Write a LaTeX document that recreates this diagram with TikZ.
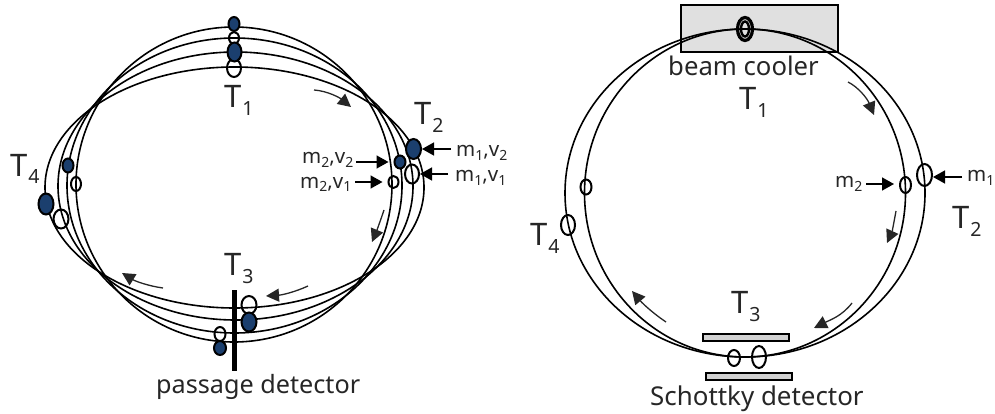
\documentclass[tikz,border=0pt]{standalone}
\usepackage{fontspec}
\setmainfont{Noto Sans}
\usetikzlibrary{arrows.meta,shapes.geometric}
\definecolor{navy}{HTML}{1B3F6E}
\definecolor{ink}{HTML}{262626}
\definecolor{coolgray}{HTML}{E0E0E0}
\definecolor{platey}{HTML}{D2D2D2}
\newcommand{\TT}[1]{T\kern1pt\raisebox{-8pt}{\fontsize{19.5}{19.5}\selectfont #1}}
\newcommand{\SB}[1]{\raisebox{-3.5pt}{\fontsize{14}{14}\selectfont #1}}
\tikzset{
 ring/.style={draw=black,line width=1.6pt},
 obead/.style={ellipse,draw=black,line width=2pt,fill=none,inner sep=0pt},
 fbead/.style={ellipse,draw=black,line width=2pt,fill=navy,inner sep=0pt},
 timelab/.style={anchor=base west,inner sep=0pt,text=ink,font=\fontsize{31}{31}\selectfont},
 lab/.style={anchor=base west,inner sep=0pt,text=ink,font=\fontsize{20.5}{22}\selectfont},
 captext/.style={anchor=base west,inner sep=0pt,text=ink},
 ptr/.style={draw=black,line width=1.5pt,-{Triangle[length=12pt,width=13pt]}},
 flow/.style={draw=ink,line width=1.3pt,-{Triangle[length=13pt,width=13pt]}},
 plate/.style={draw=black,line width=1.4pt,fill=platey,inner sep=0pt},
}
\newcommand{\B}[6]{\node[#1,minimum width=#5pt,minimum height=#6pt] (#2) at (#3,#4) {};}
\begin{document}
\begin{tikzpicture}[x=1pt,y=-1pt]
\useasboundingbox (0,0) rectangle (995,414);
% left rings
\draw[ring] (234,184.5) ellipse [x radius=158pt,y radius=157.5pt];
\draw[ring] (234.5,185.5) ellipse [x radius=167.5pt,y radius=147.5pt];
\draw[ring] (235.5,186) ellipse [x radius=177.5pt,y radius=134pt];
\draw[ring] (234.5,187.5) ellipse [x radius=189.5pt,y radius=120.5pt];
% left beads
\B{obead}{la}{234}{68}{14}{18}
\B{fbead}{lb}{234}{24}{11}{14}
\B{obead}{lc}{234}{38}{10}{12}
\B{fbead}{ld}{234.5}{52}{14}{19}
\B{fbead}{le}{413.5}{149}{15}{20}
\B{fbead}{lf}{400}{162}{11}{13}
\B{obead}{lg}{412}{174}{14}{19}
\B{obead}{lh}{393.5}{182}{10}{12}
\B{fbead}{li}{68}{165.5}{11}{14}
\B{obead}{lj}{76}{184}{10}{14}
\B{fbead}{lk}{46}{204}{15}{21}
\B{obead}{ll}{61}{219}{15}{19}
\B{obead}{lm}{249}{305}{15}{18}
\B{fbead}{ln}{249}{322}{15}{19}
\B{obead}{lo}{220}{334}{11}{14}
\B{fbead}{lp}{220}{348}{12}{14}
\draw[line width=4.5pt] (234.5,290) -- (234.5,371);
% left labels
\node[timelab] (t1l) at (224,108) {\TT{1}};
\node[timelab] (t2l) at (414,125) {\TT{2}};
\node[timelab] (t3l) at (224,275) {\TT{3}};
\node[timelab] (t4l) at (10,176) {\TT{4}};
\node[captext,font=\fontsize{25.2}{27}\selectfont] (pd) at (156,393) {passage detector};
\node[lab] (m22) at (302,164) {m\SB{2},v\SB{2}};
\node[lab] (m21) at (300,188.5) {m\SB{2},v\SB{1}};
\node[lab] (m12) at (456,157) {m\SB{1},v\SB{2}};
\node[lab] (m11) at (455,182) {m\SB{1},v\SB{1}};
\coordinate (s22) at (356,162);
\coordinate (s21) at (355,182);
\coordinate (s12) at (451,149);
\coordinate (s11) at (448,174);
\draw[ptr,shorten >=5pt] (s22) -- (lf.west |- s22);
\draw[ptr,shorten >=5pt] (s21) -- (lh.west |- s21);
\draw[ptr] (s12) -- (le.east |- s12);
\draw[ptr] (s11) -- (lg.east |- s11);
% left flow arrows
\coordinate (a1s) at (314,90); \coordinate (a1e) at (351,107);
\coordinate (a2s) at (384,210); \coordinate (a2e) at (372,242);
\coordinate (a3s) at (308,286); \coordinate (a3e) at (266,296);
\coordinate (a4s) at (163,288); \coordinate (a4e) at (122,273);
\draw[flow] (a1s) .. controls (328,91) and (340,98) .. (a1e);
\draw[flow] (a2s) .. controls (381,219) and (377,230) .. (a2e);
\draw[flow] (a3s) .. controls (295,292) and (282,295) .. (a3e);
\draw[flow] (a4s) .. controls (148,286) and (135,281) .. (a4e);
% right rings
\node[draw=black,line width=1.6pt,fill=coolgray,minimum width=157pt,minimum height=47pt,inner sep=0pt] (cooler) at (759.5,28.5) {};
\draw[ring] (745,193) ellipse [x radius=160.5pt,y radius=164pt];
\draw[ring] (745,193) ellipse [x radius=180pt,y radius=164pt];
% right beads
\node[obead,line width=3.2pt,minimum width=15pt,minimum height=23pt] (r1) at (745,29) {};
\node[obead,line width=2.4pt,minimum width=8pt,minimum height=15pt] (r1b) at (745,29) {};
\B{obead}{r2}{924.5}{175}{15}{22}
\B{obead}{r3}{905.5}{185}{11}{16}
\B{obead}{r4}{586}{187}{11}{15}
\B{obead}{r5}{568}{225}{14}{20}
\B{obead}{r6}{734}{358}{12}{16}
\B{obead}{r7}{759}{357}{14}{22}
\node[plate,minimum width=86pt,minimum height=7pt] (up) at (746,337.5) {};
\node[plate,minimum width=86pt,minimum height=7pt] (lo) at (749,376.5) {};
% right labels
\node[timelab] (t1r) at (739,110) {\TT{1}};
\node[timelab] (t2r) at (952,228) {\TT{2}};
\node[timelab] (t3r) at (731,313) {\TT{3}};
\node[timelab] (t4r) at (530,245) {\TT{4}};
\node[captext,font=\fontsize{25.7}{27}\selectfont] (bc) at (668,76) {beam cooler};
\node[captext,font=\fontsize{25.9}{27}\selectfont] (sd) at (650,405) {Schottky detector};
\node[lab] (m2r) at (835,188) {m\SB{2}};
\node[lab] (m1r) at (967,182) {m\SB{1}};
\coordinate (s2r) at (866,184);
\coordinate (s1r) at (962,177);
\draw[ptr,shorten >=5pt] (s2r) -- (r3.west |- s2r);
\draw[ptr] (s1r) -- (r2.east |- s1r);
\coordinate (b1s) at (848,82); \coordinate (b1e) at (874,115);
\coordinate (b2s) at (896,211); \coordinate (b2e) at (887,243);
\coordinate (b3s) at (852,303); \coordinate (b3e) at (814,328);
\coordinate (b4s) at (666,322); \coordinate (b4e) at (632,291);
\draw[flow] (b1s) .. controls (858,87) and (867,98) .. (b1e);
\draw[flow] (b2s) .. controls (894,222) and (892,232) .. (b2e);
\draw[flow] (b3s) .. controls (842,316) and (830,320) .. (b3e);
\draw[flow] (b4s) .. controls (654,314) and (643,304) .. (b4e);
\end{tikzpicture}
\end{document}
